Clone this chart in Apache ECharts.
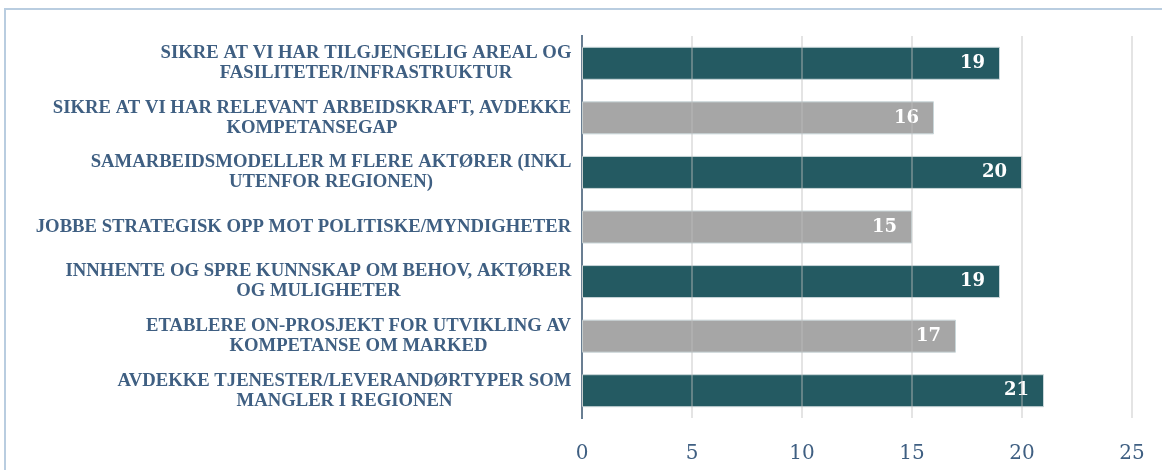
<!DOCTYPE html>
<html>
<head>
<meta charset="utf-8">
<title>Tiltak</title>
<script src="https://cdn.jsdelivr.net/npm/echarts@6/dist/echarts.min.js"></script>
<style>
  * { margin: 0; padding: 0 }
  html, body { width: 100%; height: 100%; background: #fff; overflow: hidden }
  #frame {
    position: absolute; left: 4px; top: 8px; width: 1170px; height: 480px;
    border-left: 2px solid #b9cde0; border-top: 2px solid #b9cde0;
  }
  #main { position: absolute; left: 0; top: 0; width: 1162px; height: 470px }
</style>
</head>
<body>
<div id="frame"></div>
<div id="main"></div>
<script>
  var categories = [
    'SIKRE AT VI HAR TILGJENGELIG AREAL OG\nFASILITETER/INFRASTRUKTUR',
    'SIKRE AT VI HAR RELEVANT ARBEIDSKRAFT, AVDEKKE\nKOMPETANSEGAP',
    'SAMARBEIDSMODELLER M FLERE AKTØRER (INKL\nUTENFOR REGIONEN)',
    'JOBBE STRATEGISK OPP MOT POLITISKE/MYNDIGHETER',
    'INNHENTE OG SPRE KUNNSKAP OM BEHOV, AKTØRER\nOG MULIGHETER',
    'ETABLERE ON-PROSJEKT FOR UTVIKLING AV\nKOMPETANSE OM MARKED',
    'AVDEKKE TJENESTER/LEVERANDØRTYPER SOM\nMANGLER I REGIONEN'
  ];
  var values = [19, 16, 20, 15, 19, 17, 21];
  var barColors = ['#245a62', '#a6a6a6'];

  // kategori-tekst: linjene sentrert innen blokka, blokka høyrejustert mot aksen
  var labelSize = 18.7;
  var ctx = document.createElement('canvas').getContext('2d');
  ctx.font = 'bold ' + labelSize + 'px "Liberation Serif"';
  var rich = {};
  categories.forEach(function (c, i) {
    var w = 0;
    c.split('\n').forEach(function (line) {
      w = Math.max(w, ctx.measureText(line).width);
    });
    rich['r' + i] = {
      width: Math.ceil(w) + 1,
      align: 'center',
      color: '#3f5f82',
      fontFamily: '"Liberation Serif", serif',
      fontWeight: 'bold',
      fontSize: labelSize,
      lineHeight: 20
    };
  });

  var chart = echarts.init(document.getElementById('main'));

  chart.setOption({
    animation: false,
    grid: { left: 582, right: 30, top: 36, bottom: 52 },
    xAxis: {
      type: 'value',
      min: 0,
      max: 25,
      interval: 5,
      z: 3,
      axisLine: { show: false },
      axisTick: { show: false },
      splitLine: { lineStyle: { color: 'rgba(190,190,190,0.55)', width: 1.5 } },
      axisLabel: {
        margin: 26,
        color: '#3f5f82',
        fontFamily: 'Georgia, "DejaVu Serif", serif',
        fontSize: 20
      }
    },
    yAxis: {
      type: 'category',
      inverse: true,
      data: categories,
      axisLine: { lineStyle: { color: '#2f5274', width: 2 } },
      axisTick: { show: false },
      axisLabel: {
        margin: 10,
        align: 'right',
        rich: rich,
        formatter: function (val, idx) {
          return val.split('\n').map(function (line) {
            return '{r' + idx + '|' + line + '}';
          }).join('\n');
        }
      }
    },
    series: [{
      type: 'bar',
      barWidth: 33,
      data: values.map(function (v, i) {
        return { value: v, itemStyle: { color: barColors[i % 2] } };
      }),
      itemStyle: { borderColor: '#c9d6d9', borderWidth: 1 },
      label: {
        show: true,
        position: 'insideRight',
        distance: 15,
        color: '#fff',
        fontFamily: 'Georgia, "DejaVu Serif", serif',
        fontWeight: 'bold',
        fontSize: 18
      }
    }]
  });
</script>
</body>
</html>
